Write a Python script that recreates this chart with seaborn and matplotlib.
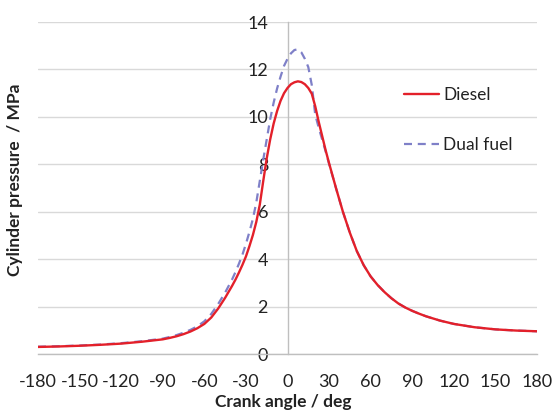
import matplotlib
matplotlib.use("Agg")
import matplotlib.pyplot as plt
import seaborn as sns
import pandas as pd

# Crank angle (deg) and cylinder pressure (MPa) for both fuelling modes
crank_angle = [-180, -165, -150, -135, -120, -105, -90, -85, -80, -75, -70, -65,
               -60, -55, -50, -45, -40, -37.5, -35, -32.5, -30, -27.5, -25, -22.5,
               -20, -17.5, -15, -12.5, -10, -7.5, -5, -2.5, 0, 2.5, 5, 7.5,
               10, 12.5, 15, 17.5, 20, 22.5, 25, 27.5, 30, 35, 40, 45,
               50, 55, 60, 65, 70, 75, 80, 85, 90, 95, 100, 110,
               120, 135, 150, 165, 180]

diesel = [0.31, 0.33, 0.36, 0.40, 0.45, 0.53, 0.63, 0.69, 0.76, 0.85, 0.96, 1.10,
          1.28, 1.55, 1.93, 2.38, 2.88, 3.15, 3.45, 3.77, 4.12, 4.55, 5.02, 5.58,
          6.30, 7.30, 8.25, 9.05, 9.72, 10.25, 10.68, 11.00, 11.22, 11.38, 11.46, 11.50,
          11.47, 11.38, 11.22, 10.98, 10.45, 9.80, 9.20, 8.60, 8.05, 7.00, 6.00, 5.12,
          4.35, 3.75, 3.28, 2.92, 2.62, 2.36, 2.14, 1.97, 1.83, 1.71, 1.60, 1.42,
          1.28, 1.14, 1.05, 1.00, 0.97]

dual_fuel = [0.32, 0.34, 0.37, 0.41, 0.47, 0.55, 0.66, 0.73, 0.81, 0.91, 1.03, 1.18,
             1.39, 1.70, 2.12, 2.60, 3.15, 3.47, 3.82, 4.20, 4.65, 5.15, 5.70, 6.40,
             7.30, 8.20, 9.05, 9.90, 10.60, 11.20, 11.70, 12.15, 12.45, 12.68, 12.82, 12.85,
             12.72, 12.45, 12.10, 11.35, 10.10, 9.55, 9.05, 8.55, 8.02, 7.00, 6.00, 5.12,
             4.35, 3.75, 3.28, 2.92, 2.62, 2.36, 2.14, 1.97, 1.83, 1.71, 1.60, 1.42,
             1.28, 1.14, 1.05, 1.00, 0.97]

x_ticks = [-180, -150, -120, -90, -60, -30, 0, 30, 60, 90, 120, 150, 180]
y_ticks = [0, 2, 4, 6, 8, 10, 12, 14]

df = pd.DataFrame({"angle": crank_angle, "Diesel": diesel, "Dual fuel": dual_fuel})

sns.set_theme(style="white")
plt.rcParams["font.family"] = ["Lato", "DejaVu Sans"]

fig = plt.figure(figsize=(5.55, 4.12), dpi=100)
ax = fig.add_axes([38 / 555, 1 - 354.3 / 412, 499 / 555, 332.3 / 412])

sns.lineplot(data=df, x="angle", y="Diesel", ax=ax, color="#e3202a",
             linewidth=1.7, label="Diesel", zorder=4)
sns.lineplot(data=df, x="angle", y="Dual fuel", ax=ax, color="#7f80c8",
             linewidth=1.6, label="Dual fuel", zorder=3)
ax.lines[1].set_dashes([3.6, 2.6])

ax.set_xlim(-180, 180)
ax.set_ylim(0, 14)
ax.set_xticks(x_ticks)
ax.set_yticks(y_ticks)
ax.set_xticklabels([str(t) for t in x_ticks])
ax.set_yticklabels([str(t) for t in y_ticks])

# Horizontal gridlines only
ax.grid(axis="y", color="#d9d9d9", linewidth=1.0)
ax.grid(axis="x", visible=False)
ax.set_axisbelow(True)

# Vertical axis crosses at zero crank angle
for side in ("top", "right"):
    ax.spines[side].set_visible(False)
ax.spines["left"].set_position(("data", 0))
ax.spines["left"].set_color("#bfbfbf")
ax.spines["left"].set_linewidth(1.0)
ax.spines["bottom"].set_color("#bfbfbf")
ax.spines["bottom"].set_linewidth(1.0)

ax.tick_params(axis="x", direction="out", length=5, width=1.0, color="#bfbfbf",
               pad=9, labelsize=13, labelcolor="#222222")
ax.tick_params(axis="y", length=0, pad=14, labelsize=13, labelcolor="#222222")

ax.set_xlabel("Crank angle / deg", fontsize=12.5, fontweight="bold", color="#222222")
ax.set_ylabel("Cylinder pressure  / MPa", fontsize=12.5, fontweight="bold", color="#222222")
ax.xaxis.set_label_coords(0.492, -0.12)
ax.yaxis.set_label_coords(-0.03, 0.525)

leg = ax.legend(loc="upper left", bbox_to_anchor=(0.72, 0.826), frameon=False,
                fontsize=12.5, handlelength=2.0, handletextpad=0.25,
                labelspacing=2.0, borderaxespad=0)
for t in leg.get_texts():
    t.set_color("#222222")

fig.savefig("out.png", dpi=100, facecolor="white")
